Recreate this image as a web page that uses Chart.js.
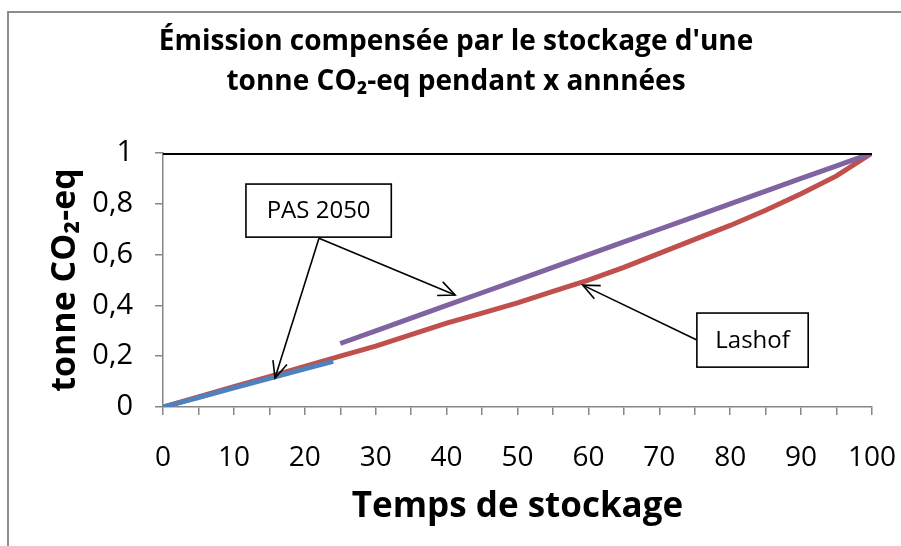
<!DOCTYPE html>
<html>
<head>
<meta charset="utf-8">
<script src="https://cdn.jsdelivr.net/npm/chart.js@4.4.1/dist/chart.umd.min.js"></script>
<style>
  html, body { margin: 0; padding: 0; background: #fff; }
  #wrap { width: 901px; height: 546px; position: relative; }
</style>
</head>
<body>
<div id="wrap"><canvas id="myChart"></canvas></div>
<script>
// data
const lashofYears = [0,5,10,15,20,25,30,35,40,45,50,55,60,65,70,75,80,85,90,95,100];
const lashofValues = [0,0.04,0.08,0.12,0.16,0.20,0.24,0.285,0.33,0.37,0.41,0.455,0.50,0.55,0.605,0.66,0.715,0.775,0.84,0.91,1.0];

const pasShortYears = [0,5,10,15,20,24];
const pasShortValues = [0,0.037,0.075,0.113,0.15,0.18];

const pasLongYears = [25,30,35,40,45,50,55,60,65,70,75,80,85,90,95,100];
const pasLongValues = [0.25,0.30,0.35,0.40,0.45,0.50,0.55,0.60,0.65,0.70,0.75,0.80,0.85,0.90,0.95,1.0];

const refYears = [0,100];
const refValues = [1,1];

const xTicks = [0,10,20,30,40,50,60,70,80,90,100];
const yTicks = [0,0.2,0.4,0.6,0.8,1];

const titleLines = ["Émission compensée par le stockage d'une", "tonne CO₂-eq pendant x annnées"];

const pts = (xs, ys) => xs.map((x, i) => ({x: x, y: ys[i]}));

// callouts, in data units
const callouts = [
  {text: 'PAS 2050', box: [11.7, 32.2, 0.878, 0.669], from: [22, 0.665], to: [[15.8, 0.114], [41.2, 0.441]]},
  {text: 'Lashof', box: [75.3, 91, 0.37, 0.157], from: [75.3, 0.264], to: [[59.2, 0.48]]}
];

const FONT = "'Open Sans', 'DejaVu Sans', sans-serif";
const AXIS_GREY = '#868686';

const frame = {
  id: 'frame',
  beforeDraw(chart) {
    const ctx = chart.ctx;
    ctx.save();
    ctx.fillStyle = '#fff';
    ctx.fillRect(0, 0, chart.width, chart.height);
    ctx.strokeStyle = '#8c8c8c';
    ctx.lineWidth = 2;
    ctx.beginPath();
    ctx.moveTo(8, chart.height);
    ctx.lineTo(8, 12);
    ctx.lineTo(chart.width, 12);
    ctx.stroke();
    ctx.restore();
  }
};

function arrow(ctx, x1, y1, x2, y2) {
  ctx.beginPath();
  ctx.moveTo(x1, y1);
  ctx.lineTo(x2, y2);
  ctx.stroke();
  const a = Math.atan2(y2 - y1, x2 - x1);
  const len = 18, spread = 0.42;
  ctx.beginPath();
  ctx.moveTo(x2 - len * Math.cos(a - spread), y2 - len * Math.sin(a - spread));
  ctx.lineTo(x2, y2);
  ctx.lineTo(x2 - len * Math.cos(a + spread), y2 - len * Math.sin(a + spread));
  ctx.stroke();
}

const notes = {
  id: 'notes',
  afterDatasetsDraw(chart) {
    const ctx = chart.ctx;
    const xs = chart.scales.x, ys = chart.scales.y;
    ctx.save();
    ctx.strokeStyle = '#000';
    ctx.lineWidth = 1.6;
    callouts.forEach(c => {
      const fx = xs.getPixelForValue(c.from[0]), fy = ys.getPixelForValue(c.from[1]);
      c.to.forEach(t => arrow(ctx, fx, fy, xs.getPixelForValue(t[0]), ys.getPixelForValue(t[1])));
      const l = xs.getPixelForValue(c.box[0]), r = xs.getPixelForValue(c.box[1]);
      const t = ys.getPixelForValue(c.box[2]), b = ys.getPixelForValue(c.box[3]);
      ctx.fillStyle = '#fff';
      ctx.fillRect(l, t, r - l, b - t);
      ctx.strokeRect(l, t, r - l, b - t);
      ctx.fillStyle = '#000';
      ctx.font = "24px " + FONT;
      ctx.textAlign = 'center';
      ctx.textBaseline = 'middle';
      ctx.fillText(c.text, (l + r) / 2, (t + b) / 2 + 1);
    });
    ctx.restore();
  }
};

// first dataset is painted on top
const data = {
  datasets: [
    {
      label: 'Référence',
      data: pts(refYears, refValues),
      borderColor: '#000000',
      borderWidth: 4,
      pointRadius: 0
    },
    {
      label: 'PAS 2050 (< 25 ans)',
      data: pts(pasShortYears, pasShortValues),
      borderColor: '#4F81BD',
      borderWidth: 5,
      pointRadius: 0
    },
    {
      label: 'PAS 2050 (> 25 ans)',
      data: pts(pasLongYears, pasLongValues),
      borderColor: '#8064A2',
      borderWidth: 5,
      pointRadius: 0
    },
    {
      label: 'Lashof',
      data: pts(lashofYears, lashofValues),
      borderColor: '#C0504D',
      borderWidth: 5,
      pointRadius: 0
    }
  ]
};

const config = {
  type: 'line',
  data,
  plugins: [frame, notes],
  options: {
    responsive: true,
    maintainAspectRatio: false,
    animation: false,
    devicePixelRatio: 1,
    layout: { padding: { left: 40, right: 29, top: 4, bottom: 10 } },
    plugins: {
      legend: { display: false },
      tooltip: { enabled: false },
      title: {
        display: true,
        text: titleLines,
        color: '#000',
        font: { family: FONT, size: 28, weight: 'bold', lineHeight: 1.43 },
        padding: { top: 18, bottom: 51 }
      }
    },
    scales: {
      x: {
        type: 'linear',
        min: 0,
        max: 100,
        afterBuildTicks: s => { s.ticks = []; for (let v = 0; v <= 100; v += 5) s.ticks.push({value: v}); },
        ticks: {
          autoSkip: false,
          maxRotation: 0,
          color: '#000',
          padding: 26,
          font: { family: FONT, size: 28 },
          callback: v => xTicks.includes(v) ? String(v) : ''
        },
        grid: { drawOnChartArea: false, tickLength: 8, color: AXIS_GREY, lineWidth: 1.5 },
        border: { color: AXIS_GREY, width: 1.5 },
        title: {
          display: true,
          text: 'Temps de stockage',
          color: '#000',
          font: { family: FONT, size: 35, weight: 'bold' },
          padding: { top: 0, bottom: 8 }
        },
        afterFit: s => { s.height = 546 - 407 - 10; s.paddingLeft = 0; s.paddingRight = 0; }
      },
      y: {
        min: 0,
        max: 1,
        afterBuildTicks: s => { s.ticks = yTicks.map(v => ({value: v})); },
        ticks: {
          color: '#000',
          padding: 22,
          font: { family: FONT, size: 29 },
          callback: v => String(Math.round(v * 10) / 10).replace('.', ',')
        },
        grid: { drawOnChartArea: false, tickLength: 8, color: AXIS_GREY, lineWidth: 1.5 },
        border: { color: AXIS_GREY, width: 1.5 },
        title: {
          display: true,
          text: 'tonne CO₂-eq',
          color: '#000',
          font: { family: FONT, size: 34, weight: 'bold' },
          padding: { top: 5, bottom: 0 }
        },
        afterFit: s => { s.width = 163 - 40; }
      }
    }
  }
};

const myChart = new Chart(document.getElementById('myChart'), config);
</script>
</body>
</html>
